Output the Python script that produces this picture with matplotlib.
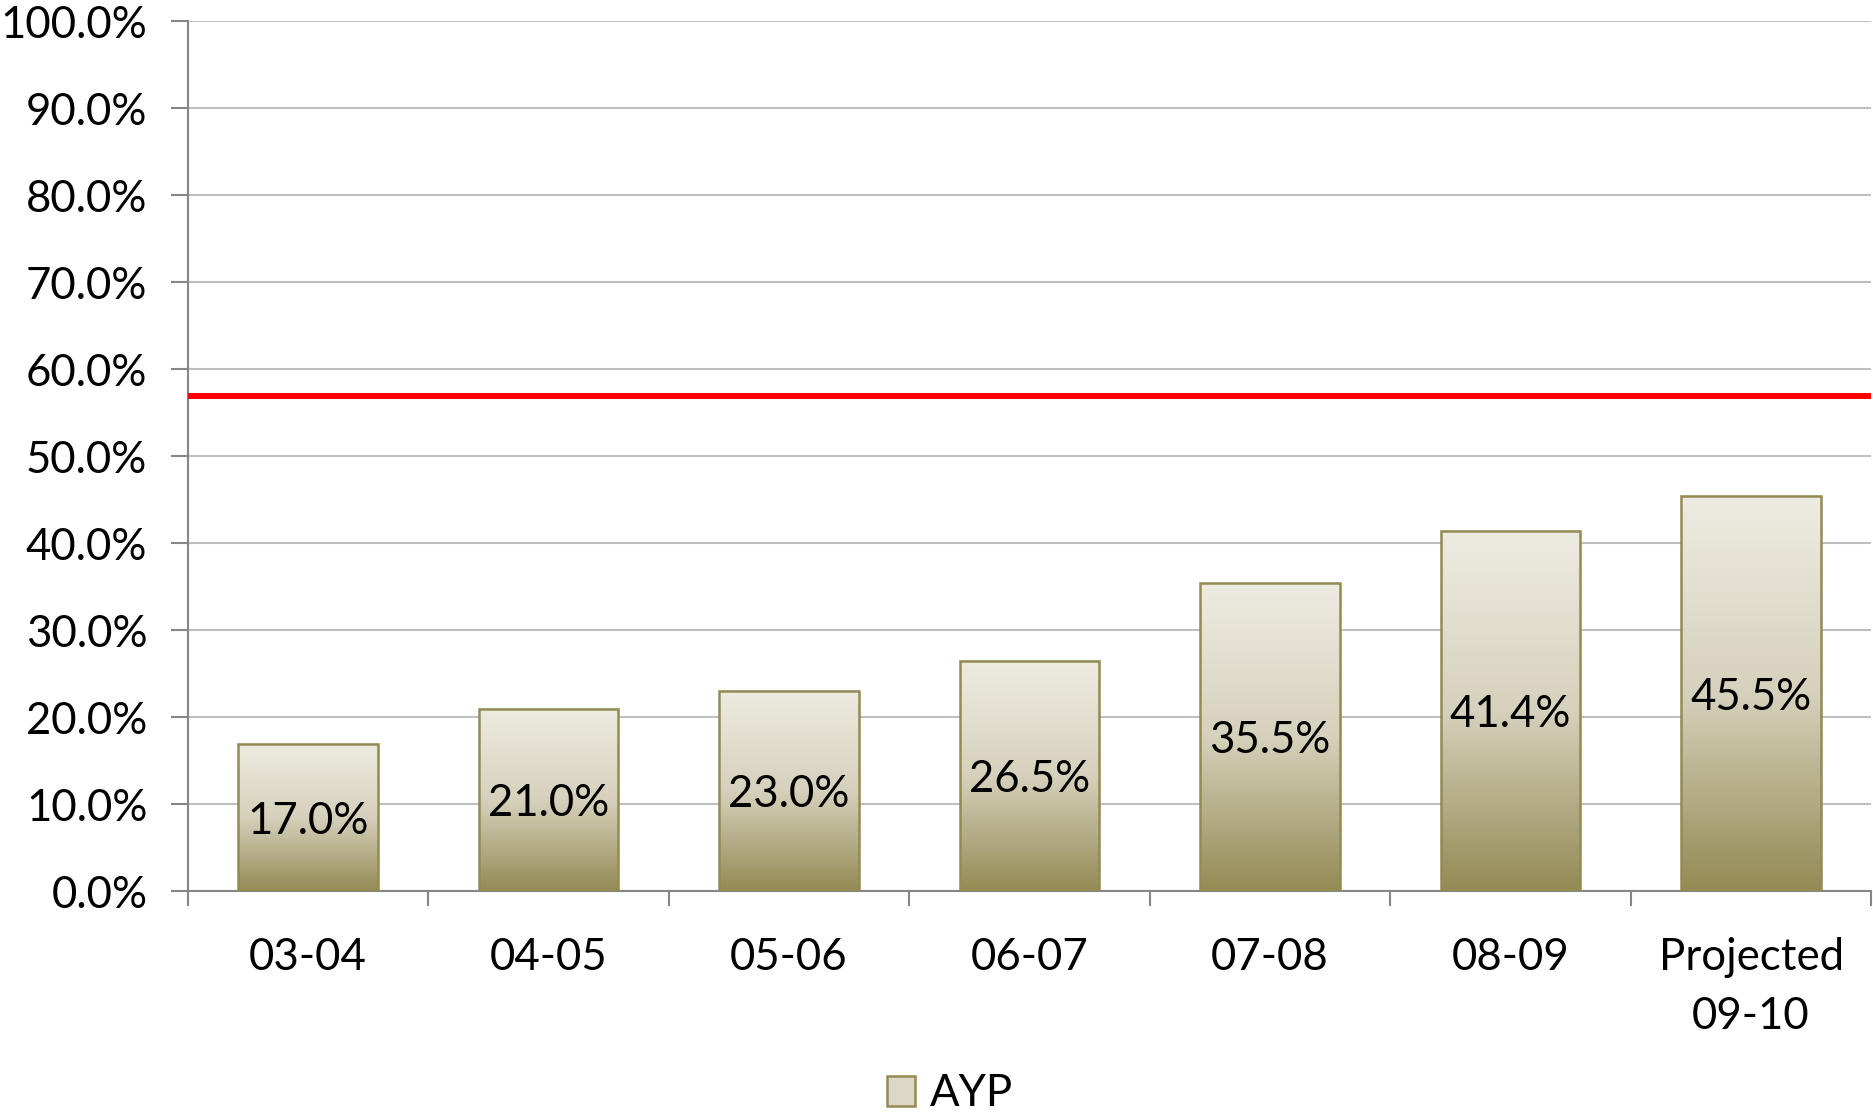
import matplotlib
matplotlib.use("Agg")
import matplotlib.pyplot as plt
import numpy as np
from matplotlib.colors import LinearSegmentedColormap
from matplotlib.patches import Patch

categories = ["03-04", "04-05", "05-06", "06-07", "07-08", "08-09", "Projected\n09-10"]
ayp = [17.0, 21.0, 23.0, 26.5, 35.5, 41.4, 45.5]
target = 56.9
yticks = [0, 10, 20, 30, 40, 50, 60, 70, 80, 90, 100]

plt.rcParams['font.family'] = ['Lato', 'DejaVu Sans']
FS = 31.5

fig = plt.figure(figsize=(18.74, 11.18), dpi=100)
ax = fig.add_axes([0.1001, 0.2026, 0.8985, 0.7782])

cmap = LinearSegmentedColormap.from_list(
    "tan", [(0.0, "#948A54"), (0.5, "#D6D1BC"), (1.0, "#EEECE2")])
grad = np.linspace(0, 1, 256).reshape(-1, 1)
width = 0.58
x = np.arange(len(categories))
for xi, v in zip(x, ayp):
    ax.imshow(grad, extent=(xi - width / 2, xi + width / 2, 0, v), origin="lower",
              aspect="auto", cmap=cmap, zorder=3, interpolation="bicubic")
bars = ax.bar(x, ayp, width=width, facecolor="none", edgecolor="#948A54",
              linewidth=1.8, zorder=4)
for xi, v in zip(x, ayp):
    ax.text(xi, v / 2 - 0.4, f"{v:.1f}%", ha="center", va="center", fontsize=FS,
            color="black", zorder=5)

ax.axhline(target, color="#FF0000", linewidth=4.3, zorder=6)

ax.set_xlim(-0.5, len(categories) - 0.5)
ax.set_ylim(0, 100)
ax.set_yticks(yticks)
ax.set_yticklabels([f"{t:.1f}%" for t in yticks], fontsize=FS)
ax.yaxis.grid(True, color="#BFBFBF", linewidth=1.5, zorder=0)
ax.set_axisbelow(True)

ax.set_xticks(x)
ax.set_xticklabels(categories, fontsize=FS, linespacing=1.55)
ax.tick_params(axis="x", which="major", length=0, pad=33)
ax.set_xticks(np.arange(-0.5, len(categories)), minor=True)
ax.tick_params(axis="x", which="minor", length=11, width=1.5, color="#868686")
ax.tick_params(axis="y", length=12, width=1.5, color="#868686", pad=17)

for s in ["top", "right"]:
    ax.spines[s].set_visible(False)
for s in ["left", "bottom"]:
    ax.spines[s].set_color("#868686")
    ax.spines[s].set_linewidth(1.5)

handle = Patch(facecolor="#DCD8C6", edgecolor="#948A54", linewidth=1.8)
fig.legend([handle], ["AYP"], loc="center", bbox_to_anchor=(0.507, 0.0215),
           frameon=False, fontsize=FS, handlelength=0.65, handleheight=0.65,
           handletextpad=0.35)

fig.savefig("out.png", dpi=100)
